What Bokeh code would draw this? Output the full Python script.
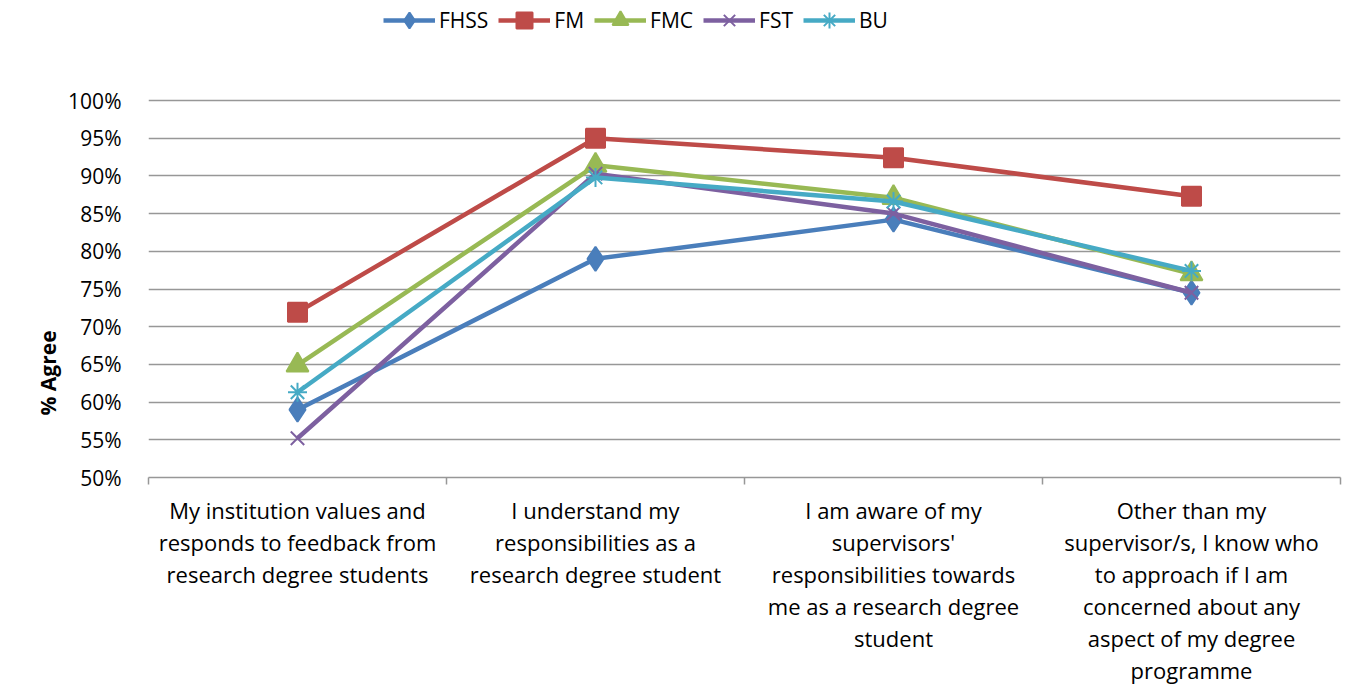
from bokeh.plotting import figure
from bokeh.models import (Range1d, FixedTicker, NumeralTickFormatter, Legend, LegendItem, Title)
from bokeh.embed import file_html
from bokeh.resources import INLINE

categories = [
    "My institution values and\nresponds to feedback from\nresearch degree students",
    "I understand my\nresponsibilities as a\nresearch degree student",
    "I am aware of my\nsupervisors'\nresponsibilities towards\nme as a research degree\nstudent",
    "Other than my\nsupervisor/s, I know who\nto approach if I am\nconcerned about any\naspect of my degree\nprogramme",
]
fhss = [0.590, 0.790, 0.842, 0.745]
fm = [0.719, 0.950, 0.924, 0.873]
fmc = [0.649, 0.914, 0.871, 0.770]
fst = [0.552, 0.903, 0.850, 0.745]
bu = [0.613, 0.898, 0.866, 0.774]
y_ticks = [0.50, 0.55, 0.60, 0.65, 0.70, 0.75, 0.80, 0.85, 0.90, 0.95, 1.00]

series = [
    ("FHSS", fhss, "#4A7EBB", "diamond", 24),
    ("FM", fm, "#BE4B48", "square", 19),
    ("FMC", fmc, "#98B954", "triangle", 22),
    ("FST", fst, "#7D60A0", "x", 19),
    ("BU", bu, "#46AAC5", "asterisk", 19),
]

FONT = "Open Sans"
xs = [i + 0.5 for i in range(len(categories))]

# frame spans the whole top of the chart so the legend can sit in it (axis scale: 377px per 50%)
p = figure(width=1348, height=686, output_backend="svg", toolbar_location=None,
           x_range=Range1d(0, len(categories)), y_range=Range1d(0.5, 0.5 + 0.5 * 477 / 377),
           frame_width=1192, frame_height=477,
           min_border_left=148, min_border_top=0, min_border_right=8, min_border_bottom=5)
p.outline_line_color = None
p.background_fill_color = "white"
p.border_fill_color = "white"

# y axis
p.yaxis.ticker = FixedTicker(ticks=y_ticks)
p.yaxis.formatter = NumeralTickFormatter(format="0%")
p.yaxis.axis_line_color = None
p.yaxis.major_tick_line_color = None
p.yaxis.minor_tick_line_color = None
p.yaxis.major_label_standoff = 21
p.yaxis.major_label_text_font = FONT
p.yaxis.major_label_text_font_size = "21px"
p.yaxis.major_label_text_color = "black"
p.ygrid.grid_line_color = "#979797"
p.ygrid.grid_line_width = 1.5
p.ygrid.ticker = FixedTicker(ticks=y_ticks[1:])

ytitle = Title(text="% Agree", align="left", offset=62, text_font=FONT,
               text_font_size="21px", text_font_style="bold", text_color="black",
               standoff=8)
p.add_layout(ytitle, "left")

# x axis
p.xaxis.ticker = FixedTicker(ticks=xs, minor_ticks=[0, 1, 2, 3, 4])
p.xaxis.major_label_overrides = {x: c for x, c in zip(xs, categories)}
p.xaxis.major_tick_line_color = None
p.xaxis.minor_tick_line_color = "#979797"
p.xaxis.minor_tick_line_width = 1.5
p.xaxis.minor_tick_out = 7
p.xaxis.minor_tick_in = 0
p.xaxis.axis_line_color = "#979797"
p.xaxis.axis_line_width = 1.5
p.xaxis.major_label_standoff = 10
p.xaxis.major_label_text_font = FONT
p.xaxis.major_label_text_font_size = "22px"
p.xaxis.major_label_text_color = "black"
p.xaxis.major_label_text_line_height = 1.07
p.xgrid.grid_line_color = None

items = []
for name, vals, color, marker, size in series:
    lr = p.line(xs, vals, line_color=color, line_width=4.5)
    sr = p.scatter(xs, vals, marker=marker, size=size, fill_color=color,
                   line_color=color, line_width=2)
    items.append(LegendItem(label=name, renderers=[lr, sr]))

legend = Legend(items=items, orientation="horizontal", location=(235, 437),
                label_text_font=FONT, label_text_font_size="21px", label_text_color="black",
                glyph_width=52, glyph_height=40, spacing=10, label_standoff=4,
                padding=0, margin=0, border_line_color=None,
                background_fill_alpha=0)
p.add_layout(legend, "center")

open("out.html", "w").write(file_html(p, INLINE))
